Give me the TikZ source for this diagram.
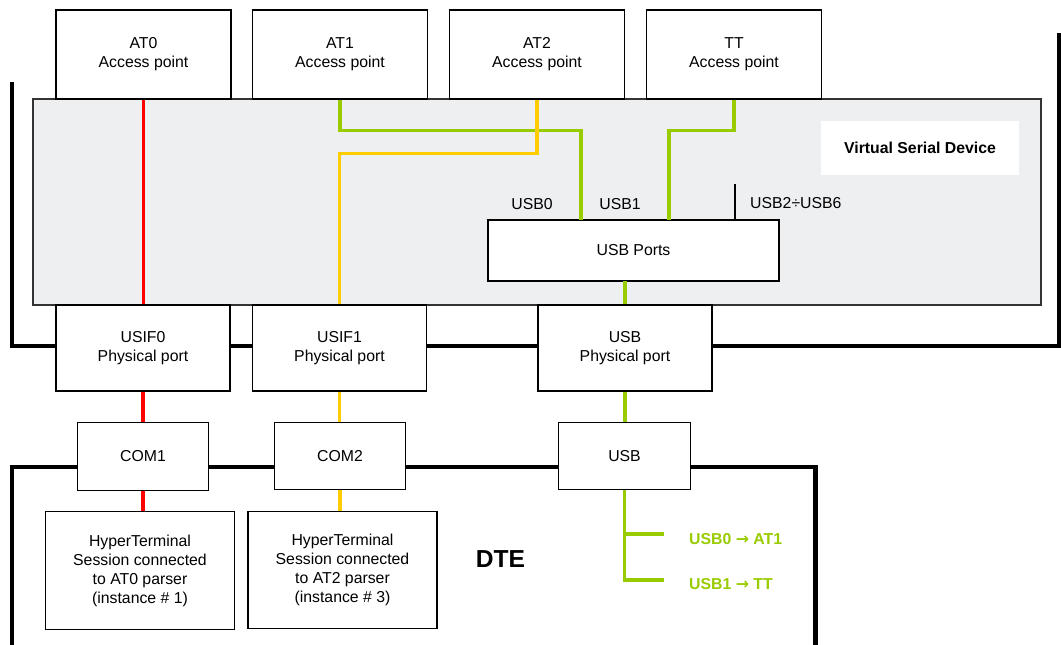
\documentclass[tikz,border=0pt]{standalone}
\usepackage{fontspec}
\setmainfont{Liberation Sans}
\newfontfamily\arrowfont{DejaVu Sans}
\usepackage{xcolor}
\usepackage{tikz}

\definecolor{linkred}{HTML}{FF0000}
\definecolor{linkgreen}{HTML}{99CC00}
\definecolor{linkyellow}{HTML}{FFCC00}
\definecolor{vsdgray}{HTML}{EEEFF1}

\newcommand{\maparrow}{{\arrowfont\bfseries →}}

\begin{document}
\begin{tikzpicture}[
			x=0.02cm, y=-0.02cm,
			font=\fontsize{9}{10.8}\selectfont,
			apbox/.style={draw, line width=0.8pt, fill=white, minimum width=3.5cm, minimum height=1.78cm, align=center},
			portbox/.style={draw, line width=0.8pt, fill=white, minimum width=3.48cm, minimum height=1.72cm, align=center},
			combox/.style={draw, line width=0.8pt, fill=white, minimum width=2.63cm, minimum height=1.35cm, align=center},
			termbox/.style={draw, line width=0.8pt, fill=white, minimum width=3.78cm, minimum height=2.35cm, align=center},
			maplbl/.style={anchor=west, text=linkgreen, font=\fontsize{9}{10.8}\selectfont\bfseries},
			frame/.style={line width=2.8pt},
			redlink/.style={line width=2pt, linkred},
			greenlink/.style={line width=2pt, linkgreen},
			yellowlink/.style={line width=2pt, linkyellow}
			]
			\useasboundingbox (0,0) rectangle (1061,645);
			\coordinate (mtl) at (12,82);
			\coordinate (mbl) at (12,346);
			\coordinate (mbr) at (1059,346);
			\coordinate (mtr) at (1059,33);
			\coordinate (dbl) at (12,650);
			\coordinate (dtl) at (12,467);
			\coordinate (dtr) at (815.5,467);
			\coordinate (dbr) at (815.5,650);
			\draw[frame] (mtl) -- (mbl) -- (mbr) -- (mtr);
			\draw[frame] (dbl) -- (dtl) -- (dtr) -- (dbr);
			\node[draw=black!80, line width=0.8pt, fill=vsdgray, minimum width=20.16cm, minimum height=4.12cm] (vsd) at (537,202) {};
			\node[fill=white, minimum width=3.96cm, minimum height=1.08cm, font=\fontsize{9}{10.8}\selectfont\bfseries] (vsdlbl) at (920,148) {Virtual Serial Device};
			\node[apbox] (at0) at (143.5,54.5) {AT0\\Access point};
			\node[apbox] (at1) at (340,54.5) {AT1\\Access point};
			\node[apbox] (at2) at (537,54.5) {AT2\\Access point};
			\node[apbox] (tt) at (734,54.5) {TT\\Access point};
			\node[draw, line width=0.8pt, fill=white, minimum width=5.82cm, minimum height=1.22cm] (usbports) at (633.5,250.5) {USB Ports};
			\node[portbox] (usif0) at (143,348) {USIF0\\Physical port};
			\node[portbox] (usif1) at (339.5,348) {USIF1\\Physical port};
			\node[portbox] (usbphys) at (625,348) {USB\\Physical port};
			\node[combox] (com1) at (143,456.5) {COM1};
			\node[combox] (com2) at (340,456) {COM2};
			\node[combox] (usb) at (624.5,456) {USB};
			\node[termbox] (ht1) at (140,570.5) {HyperTerminal\\Session connected\\to AT0 parser\\(instance \# 1)};
			\node[termbox] (ht2) at (342.5,570) {HyperTerminal\\Session connected\\to AT2 parser\\(instance \# 3)};
			\node[font=\fontsize{14}{16}\selectfont\bfseries] (dte) at (500.5,559) {DTE};
			\node (usb0lbl) at (532,204) {USB0};
			\node (usb1lbl) at (620,204) {USB1};
			\node[anchor=west] (usbxlbl) at (744,203) {USB2÷USB6};
			\coordinate (usb0in) at (581,220);
			\coordinate (usb1in) at (669,220);
			\coordinate (usbxin) at (735,184);
			\coordinate (usbout) at (625,281);
			\coordinate (map0) at (664,534);
			\coordinate (map1) at (664,580);
			\node[maplbl] (map0lbl) at (683,539) {USB0 \maparrow{} AT1};
			\node[maplbl] (map1lbl) at (683,584) {USB1 \maparrow{} TT};
			\draw[redlink] (at0.south) -- (at0.south |- usif0.north);
			\draw[redlink] (usif0.south) -- (com1.north);
			\draw[redlink] (com1.south) -- (com1.south |- ht1.north);
			\draw[greenlink] (at1.south) -- ++(0,31) -| (usb0in);
			\draw[yellowlink] (at2.south) -- ++(0,54) -| (usif1.north);
			\draw[yellowlink] (usif1.south) -- (usif1.south |- com2.north);
			\draw[yellowlink] (com2.south) -- (com2.south |- ht2.north);
			\draw[greenlink] (tt.south) -- ++(0,31) -| (usb1in);
			\draw[line width=0.8pt] (usbxin) -- (usbxin |- usbports.north);
			\draw[greenlink] (usbout) -- (usbout |- usbphys.north);
			\draw[greenlink] (usbphys.south) -- (usbphys.south |- usb.north);
			\draw[greenlink] (usb.south) |- (map1);
			\draw[greenlink] (usb.south |- map0) -- (map0);
		\end{tikzpicture}
\end{document}
